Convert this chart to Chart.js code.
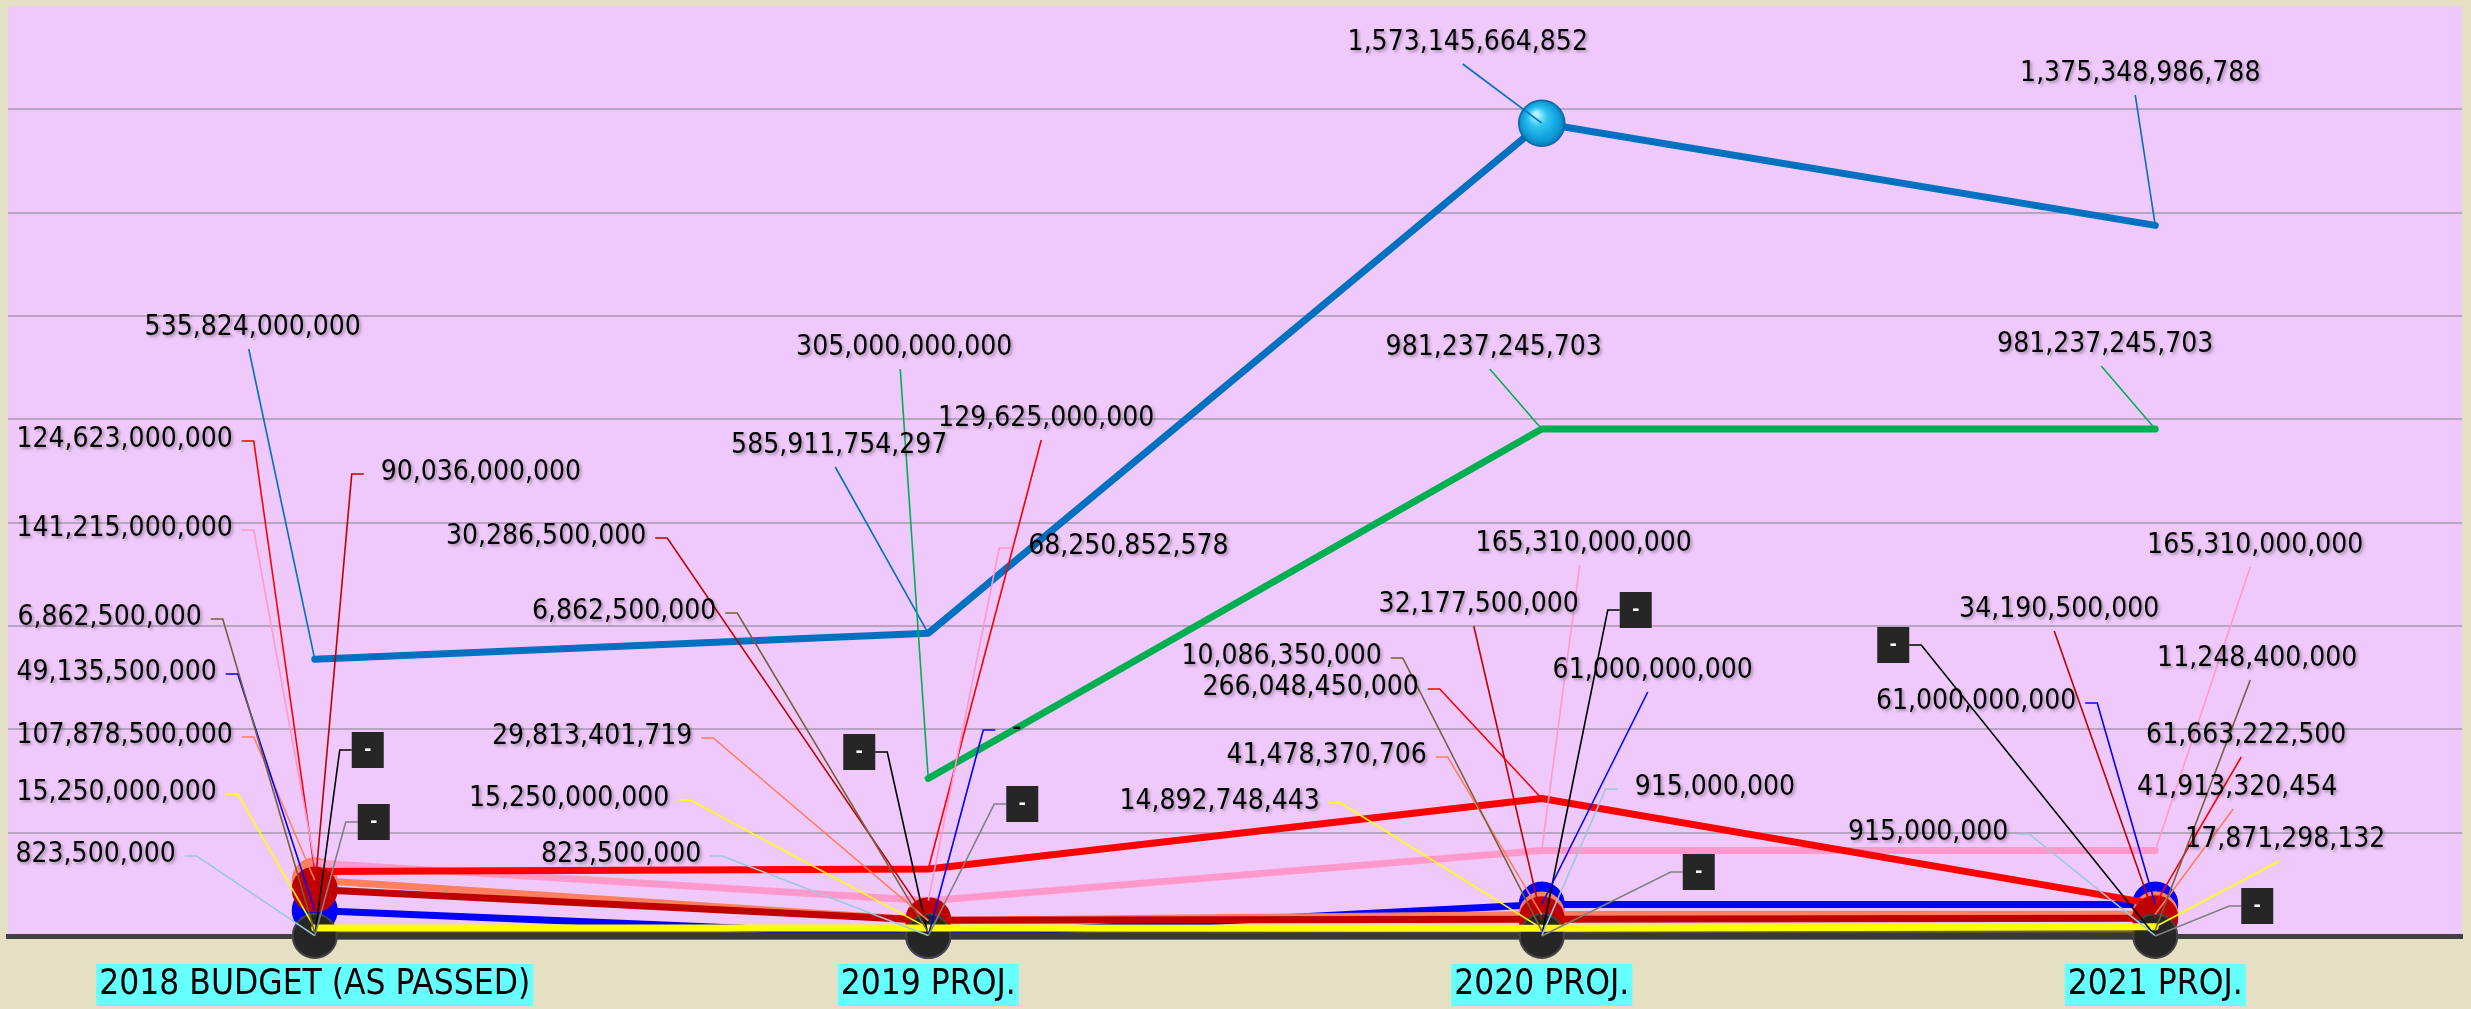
<!DOCTYPE html>
<html>
<head>
<meta charset="utf-8">
<title>Budget projections</title>
<script src="https://cdn.jsdelivr.net/npm/chart.js@4.4.1/dist/chart.umd.min.js"></script>
<style>
  html, body { margin: 0; padding: 0; background: #E5DFC3; overflow: hidden; }
  canvas { display: block; }
</style>
</head>
<body>
<canvas id="chart" width="2471" height="1009"></canvas>
<script>
const categories = ['2018 BUDGET (AS PASSED)', '2019 PROJ.', '2020 PROJ.', '2021 PROJ.'];

// series values
const totalValues     = [535824000000, 585911754297, 1573145664852, 1375348986788];
const greenValues     = [null, 305000000000, 981237245703, 981237245703];
const redValues       = [124623000000, 129625000000, 266048450000, 61663222500];
const pinkValues      = [141215000000, 68250852578, 165310000000, 165310000000];
const salmonValues    = [107878500000, 29813401719, 41478370706, 41913320454];
const darkRedValues   = [90036000000, 30286500000, 32177500000, 34190500000];
const blueValues      = [49135500000, 0, 61000000000, 61000000000];
const oliveValues     = [6862500000, 6862500000, 10086350000, 11248400000];
const yellowValues    = [15250000000, 15250000000, 14892748443, 17871298132];
const lightBlueValues = [823500000, 823500000, 915000000, 915000000];
const blackValues     = [0, 0, 0, 0];
const grayValues      = [0, 0, 0, 0];

const yMax = 1800000000000;
const yStep = 200000000000;

// label placement: [mode, dx from category centre, y on canvas, leader x shift]
// b = text above the point, r = text left of its leader, l = text right of its leader,
// L / R = dark box to the right / left of its leader
const labelSpots = {
  total:     [['b', -62, 328, -4], ['b', -89, 446, -4], ['b', -74, 43, -5], ['b', -15, 74, -5]],
  green:     [null, ['b', -24, 348, -4], ['b', -48, 348, -4], ['b', -50, 345, -4]],
  red:       [['r', -82, 440], ['b', 118, 419, -5], ['r', -123, 688], ['b', 91, 736, -5]],
  pink:      [['r', -82, 529], ['l', 100, 547], ['b', 42, 544, -4], ['b', 100, 546, -5]],
  salmon:    [['r', -82, 736], ['r', -236, 737], ['r', -115, 756], ['b', 82, 788, -4]],
  darkRed:   [['l', 66, 473], ['r', -282, 537], ['b', -63, 605, -5], ['b', -96, 610, -5]],
  blue:      [['r', -98, 673], ['l', 84, 729], ['b', 111, 671, -5], ['r', -79, 702]],
  olive:     [['r', -113, 618], ['r', -212, 612], ['r', -160, 657], ['b', 102, 659, -7]],
  yellow:    [['r', -98, 793], ['r', -259, 799], ['r', -222, 802], ['b', 130, 840, -6]],
  lightBlue: [['r', -139, 855], ['r', -227, 855], ['l', 93, 788], ['r', -147, 833]],
  black:     [['L', 37, 750], ['R', -53, 752], ['L', 78, 610], ['R', -246, 645]],
  gray:      [['L', 43, 822], ['L', 78, 804], ['L', 141, 872], ['L', 86, 906]]
};

const labelFont = '28px "DejaVu Sans Condensed", "DejaVu Sans", sans-serif';

function fmt(v) {
  return v === 0 ? '-' : v.toLocaleString('en-US');
}

// shiny marker for the big 2020 point
function sphereFill(c) {
  const chart = c.chart;
  if (!chart.scales || !chart.scales.y || !chart.scales.x || c.raw == null) return '#1AB2EA';
  const x = chart.scales.x.getPixelForValue(c.dataIndex);
  const y = chart.scales.y.getPixelForValue(c.raw);
  if (!isFinite(x) || !isFinite(y)) return '#1AB2EA';
  const g = chart.ctx.createRadialGradient(x - 6, y - 9, 2, x, y, 24);
  g.addColorStop(0, '#B8F2FF');
  g.addColorStop(0.35, '#2EC3F2');
  g.addColorStop(0.8, '#0C98D6');
  g.addColorStop(1, '#0A6FA8');
  return g;
}

function line(key, data, color, extra) {
  return Object.assign({
    key: key,
    data: data,
    borderColor: color,
    backgroundColor: color,
    leaderColor: color,
    borderWidth: 7,
    pointRadius: 0,
    pointHoverRadius: 0,
    tension: 0,
    borderCapStyle: 'round',
    borderJoinStyle: 'round',
    clip: false,
    fill: false
  }, extra || {});
}

function marker(color, border) {
  return {
    pointRadius: 22,
    pointBackgroundColor: color,
    pointBorderColor: border || color,
    pointBorderWidth: 2
  };
}

// first dataset is painted last (on top)
const datasets = [
  line('total', totalValues, '#0070C0', {
    pointRadius: [0, 0, 23, 0],
    pointBackgroundColor: sphereFill,
    pointBorderColor: '#0B6AA6',
    pointBorderWidth: 1.5
  }),
  line('green', greenValues, '#00B050'),
  line('yellow', yellowValues, '#FFFF00'),
  line('black', blackValues, '#383838', Object.assign(marker('#262626', '#454545'), { leaderColor: '#000000', boxLabel: true })),
  line('darkRed', darkRedValues, '#C00000', marker('#C00000')),
  line('red', redValues, '#FF0000'),
  line('pink', pinkValues, '#FF99CC'),
  line('salmon', salmonValues, '#FF7F5F', marker('#FF7F5F')),
  line('blue', blueValues, '#0000FF', marker('#0000FF')),
  line('olive', oliveValues, '#76603A'),
  line('lightBlue', lightBlueValues, '#9CC8DE'),
  line('gray', grayValues, '#808080', { leaderColor: '#808080', boxLabel: true })
];

const plotBackground = {
  id: 'plotBackground',
  beforeDraw(chart) {
    const ctx = chart.ctx;
    const a = chart.chartArea;
    ctx.save();
    ctx.fillStyle = '#E5DFC3';
    ctx.fillRect(0, 0, chart.width, chart.height);
    ctx.fillStyle = '#EFC9FB';
    ctx.fillRect(a.left, a.top, a.right - a.left, a.bottom - a.top);
    ctx.restore();
  }
};

const leaderLabels = {
  id: 'leaderLabels',
  afterDatasetsDraw(chart) {
    const ctx = chart.ctx;
    const xs = chart.scales.x;
    const items = [];
    chart.data.datasets.forEach((ds, di) => {
      const spots = labelSpots[ds.key];
      chart.getDatasetMeta(di).data.forEach((pt, i) => {
        const s = spots[i];
        if (!s || ds.data[i] == null) return;
        items.push({
          s: s, pt: pt,
          x: xs.getPixelForValue(i) + s[1],
          y: s[2],
          text: fmt(ds.data[i]),
          color: ds.leaderColor,
          box: ds.boxLabel
        });
      });
    });

    ctx.save();
    ctx.lineWidth = 1.6;
    items.forEach(it => {
      const mode = it.s[0];
      ctx.strokeStyle = it.color;
      ctx.beginPath();
      if (mode === 'b') {
        ctx.moveTo(it.x + it.s[3], it.y + 21);
      } else if (mode === 'r') {
        ctx.moveTo(it.x + 9, it.y + 1);
        ctx.lineTo(it.x + 21, it.y + 1);
      } else if (mode === 'l') {
        ctx.moveTo(it.x - 17, it.y + 1);
        ctx.lineTo(it.x - 29, it.y + 1);
      } else if (mode === 'L') {
        ctx.moveTo(it.x, it.y);
        ctx.lineTo(it.x - 12, it.y);
      } else {
        ctx.moveTo(it.x, it.y);
        ctx.lineTo(it.x + 12, it.y);
      }
      ctx.lineTo(it.pt.x, it.pt.y);
      ctx.stroke();
    });

    ctx.textBaseline = 'middle';
    items.forEach(it => {
      const mode = it.s[0];
      if (it.box) {
        const left = mode === 'L' ? it.x : it.x - 32;
        ctx.shadowColor = 'transparent';
        ctx.fillStyle = '#262626';
        ctx.fillRect(left, it.y - 18, 32, 36);
        ctx.fillStyle = '#FFFFFF';
        ctx.font = 'bold 18px "DejaVu Sans", sans-serif';
        ctx.textAlign = 'center';
        ctx.fillText('-', left + 16, it.y);
        return;
      }
      ctx.font = labelFont;
      ctx.textAlign = mode === 'r' ? 'right' : mode === 'l' ? 'left' : 'center';
      ctx.shadowColor = 'rgba(0, 0, 0, 0.3)';
      ctx.shadowBlur = 3;
      ctx.shadowOffsetX = 2;
      ctx.shadowOffsetY = 2;
      ctx.fillStyle = '#000000';
      ctx.fillText(it.text, it.x, it.y);
    });
    ctx.restore();
  }
};

function noPadding(s) {
  s.paddingTop = 0;
  s.paddingBottom = 0;
  s.paddingLeft = 0;
  s.paddingRight = 0;
}

new Chart(document.getElementById('chart'), {
  type: 'line',
  data: { labels: categories, datasets: datasets },
  options: {
    responsive: false,
    devicePixelRatio: 1,
    animation: false,
    events: [],
    layout: { autoPadding: false, padding: { left: 8, right: 9, top: 6, bottom: 0 } },
    plugins: {
      legend: { display: false },
      tooltip: { enabled: false }
    },
    scales: {
      x: {
        offset: true,
        grid: { display: false, drawTicks: false },
        border: { color: '#404040', width: 5 },
        ticks: {
          color: '#000000',
          font: { family: '"DejaVu Sans Condensed", "DejaVu Sans", sans-serif', size: 35 },
          padding: 28,
          maxRotation: 0,
          autoSkip: false,
          showLabelBackdrop: true,
          backdropColor: '#66FFFF',
          backdropPadding: { top: 0, bottom: 0, left: 3, right: 3 }
        },
        afterFit(s) { s.height = 73; noPadding(s); }
      },
      y: {
        min: 0,
        max: yMax,
        grid: {
          drawTicks: false,
          lineWidth: 2,
          color: c => (c.tick.value <= 0 || c.tick.value >= yMax) ? 'rgba(0,0,0,0)' : '#B8A3C2'
        },
        border: { display: false },
        ticks: { display: false, stepSize: yStep },
        afterFit(s) { s.width = 0; noPadding(s); }
      }
    }
  },
  plugins: [plotBackground, leaderLabels]
});
</script>
</body>
</html>
